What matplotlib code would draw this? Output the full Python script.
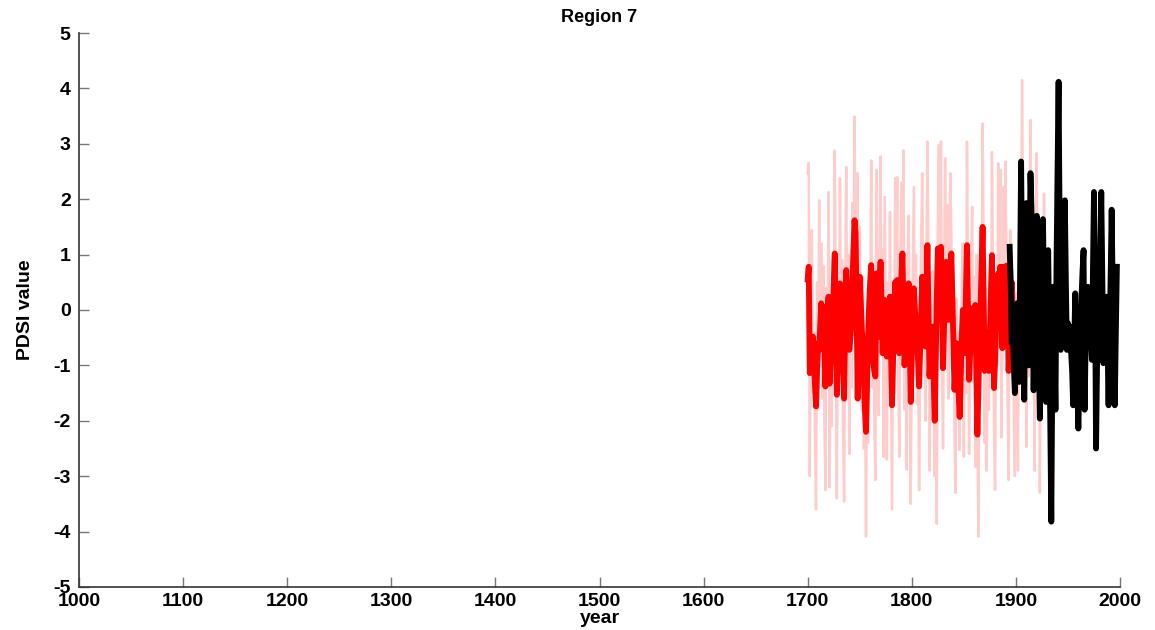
import numpy as np
import matplotlib
matplotlib.use("Agg")
import matplotlib.pyplot as plt

# reconstruction (smoothed), 1700-1899
red_start = 1700
red_vals = [
    0.55, 0.78, -1.14, -0.85, -0.62, -0.48, -0.95, -1.35, -1.74, -1.1,
    -0.6, -0.72, -0.3, 0.12, -0.45, 0.06, -0.7, -1.38, -0.8, -0.2,
    0.24, -1.33, -0.9, -0.5, -0.12, 0.45, 1.02, -0.4, -1.53, -0.6,
    0.1, 0.48, -0.1, -0.66, -1.1, -1.6, -0.3, 0.72, 0.2, -0.35,
    -0.72, -0.5, -0.24, 0.5, 1.1, 1.62, 1.4, 0.0, -1.6, -0.4,
    0.6, 0.15, -0.36, -0.7, -1.3, -1.8, -2.2, -1.3, -0.48, 0.1,
    0.5, 0.81, -0.78, -0.95, -1.1, -1.2, 0.66, 0.1, -0.48, 0.3,
    0.87, 0.0, -0.78, -0.2, 0.18, -0.3, -0.84, -0.4, -0.05, 0.24,
    -0.7, -1.72, -0.9, -0.1, 0.5, 0.2, 0.54, -0.1, -0.78, 0.1,
    0.6, 1.02, 0.0, -1.0, -0.6, -0.2, 0.2, 0.48, -0.6, -1.66,
    -0.8, -0.1, 0.39, 0.0, -0.3, -0.48, -0.9, -1.38, -0.7, 0.0,
    0.6, 0.1, -0.3, -0.66, 0.3, 1.17, 0.0, -1.2, -0.8, -0.5,
    -0.3, -1.2, -2.0, -0.9, 0.2, 1.11, 0.6, 0.8, 1.14, 0.0,
    -1.05, -0.3, 0.3, 0.87, 0.3, -0.18, 0.3, 0.7, 1.02, 0.2,
    -0.6, -1.44, -1.0, -0.6, -1.0, -1.5, -1.93, -1.2, -0.5, 0.0,
    -0.4, -0.78, 0.3, 1.17, 0.0, -1.26, -0.8, -0.4, 0.03, -0.3,
    -0.6, 0.09, -1.1, -2.25, -1.4, -0.6, 0.0, 0.8, 1.5, 0.2,
    -1.1, -0.7, -0.4, -0.8, -1.1, -0.5, 0.3, 0.99, -0.2, -1.41,
    -0.9, -0.3, 0.2, 0.66, 0.1, 0.78, 0.0, -0.69, 0.78, 0.2,
    -0.4, 0.8, 0.0, -1.1, -0.5, 0.2, 0.5, -0.2, -0.9, -0.5,
]

# annual reconstruction, 1700-1929
pink_start = 1700
pink_vals = [
    2.47, 2.65, -3.0, 0.2, 1.44, -1.5, -0.4, -2.2, -3.6, 0.5,
    -1.8, 1.98, -0.9, 1.2, -1.6, 0.8, -2.0, -3.25, 0.4, -1.2,
    2.13, -3.2, -0.6, -2.1, 0.9, -0.8, 2.88, -0.2, -3.4, 0.3,
    -1.1, 2.38, -0.5, 0.9, -2.2, -3.46, 0.2, 2.58, -0.8, 1.0,
    -2.6, 0.3, -1.4, 1.93, 0.5, 3.49, 0.8, -1.2, 2.47, -1.6,
    1.5, -0.4, -1.8, 0.6, -2.5, -1.2, -4.09, -0.9, -2.4, 0.8,
    -0.5, 2.7, -1.4, 0.4, -2.0, -3.07, 2.53, -0.8, -1.9, 1.3,
    2.77, -0.6, 1.1, -2.65, 2.04, -0.4, -2.7, 0.5, -1.3, 1.77,
    -1.0, -3.6, 0.2, -1.5, 2.38, 0.6, 2.4, -1.2, -2.65, 1.0,
    2.3, -0.3, 2.88, -1.8, 0.5, -2.88, 0.9, 1.7, -1.4, -3.5,
    -0.6, 0.8, 2.22, -0.9, 1.0, -1.7, -0.2, -3.25, -1.0, 1.2,
    2.47, -0.4, 0.9, -2.0, 0.6, 3.04, 1.1, -2.9, -0.5, -1.8,
    0.7, -1.5, -3.0, -0.8, -3.86, 1.6, 2.98, 0.2, 3.04, -1.0,
    -2.5, 0.4, 2.74, -0.3, 1.9, -1.6, 0.8, 2.47, 1.3, -0.9,
    0.5, -2.2, -3.3, 0.2, -1.9, -0.4, -2.53, -1.1, 0.6, 1.2,
    -2.65, 0.3, -1.5, 3.04, 0.4, -2.6, -0.7, 0.9, 1.86, -1.3,
    0.6, -2.83, 1.0, -2.1, -4.09, -0.5, 1.1, -0.8, 3.37, 0.9,
    -2.4, 0.4, -2.9, -0.3, -1.8, 0.5, -0.9, 2.85, 0.6, -2.2,
    -3.25, 0.4, -1.0, 2.65, 0.3, 2.53, -2.3, -0.4, 2.22, -0.7,
    2.68, 1.0, -1.6, -3.07, 0.5, 1.44, -0.9, 0.7, -1.8, -3.0,
    0.3, -1.0, -2.9, 0.9, -0.8, 1.8, 4.15, 0.5, -1.6, 1.2,
    -2.47, 0.3, -1.2, 1.6, 3.43, 0.8, -1.4, 0.4, -2.9, 0.6,
    2.83, -0.5, 1.0, -3.3, -0.8, 0.7, -1.5, 2.1, -0.6, 0.3,
]

# instrumental PDSI, 1894-1997
black_start = 1894
black_vals = [
    1.14, 0.5, -0.6, -0.3, -1.0, -1.5, -0.5, 0.12, -0.8, -1.3,
    0.6, 2.68, 0.5, -0.7, -1.62, 0.3, 1.93, -0.4, -1.0, 0.8,
    2.47, 1.8, 0.0, -1.45, -0.5, 0.6, 1.7, 0.2, -0.8, -1.96,
    -0.6, 0.5, 1.64, 0.3, -0.8, -1.66, -0.2, 1.08, -0.5, -2.0,
    -3.82, -1.0, 0.42, -0.6, -1.8, 0.8, 2.5, 4.12, 1.5, -0.72,
    -0.4, 0.4, 1.2, 1.98, 0.5, -0.72, -0.24, -0.5, -0.3, -0.75,
    -1.1, -1.72, -0.6, 0.3, -0.8, -1.4, -2.14, -1.2, -0.42, 0.2,
    0.7, 1.08, -1.8, -0.6, 0.0, 0.42, 0.1, -0.3, -0.5, -0.9,
    0.7, 2.13, 0.4, -2.5, -0.9, 0.2, -0.2, 0.9, 2.13, 0.6,
    -0.96, -0.4, 0.0, 0.24, -0.6, -1.72, -0.5, 0.6, 1.81, 0.3,
    -0.8, -1.72, -0.4, 0.78,
]

red_years = np.arange(red_start, red_start + len(red_vals))
pink_years = np.arange(pink_start, pink_start + len(pink_vals))
black_years = np.arange(black_start, black_start + len(black_vals))

plt.rcParams['font.family'] = ['Liberation Sans', 'DejaVu Sans']
plt.rcParams['axes.unicode_minus'] = False

fig = plt.figure(figsize=(11.55, 6.3), dpi=100)
ax = fig.add_axes([0.0684, 0.0683, 0.9013, 0.8793])

ax.plot(pink_years, pink_vals, color=(1.0, 0.8, 0.8), lw=1.8)
ax.plot(red_years, red_vals, color='red', lw=4.2)
ax.plot(black_years, black_vals, color='black', lw=4.2)

ax.set_xlim(1000, 2000)
ax.set_ylim(-5, 5)
ax.set_xticks(np.arange(1000, 2001, 100))
ax.set_yticks(np.arange(-5, 6, 1))

for s in ['top', 'right']:
    ax.spines[s].set_visible(False)
for s in ['left', 'bottom']:
    ax.spines[s].set_color('#333333')
    ax.spines[s].set_linewidth(1.2)

ax.tick_params(direction='in', length=7, width=1, color='#777777',
               labelsize=14, pad=4)
ax.tick_params(axis='y', pad=6)
for lab in ax.get_xticklabels() + ax.get_yticklabels():
    lab.set_fontweight('bold')

ax.set_title('Region 7', fontsize=13, fontweight='bold', pad=8)
ax.set_xlabel('year', fontsize=14, fontweight='bold', labelpad=0)
ax.set_ylabel('PDSI value', fontsize=14, fontweight='bold', labelpad=14,
              family=['Liberation Sans Narrow', 'Liberation Sans'])

fig.savefig('out.png', dpi=100)
